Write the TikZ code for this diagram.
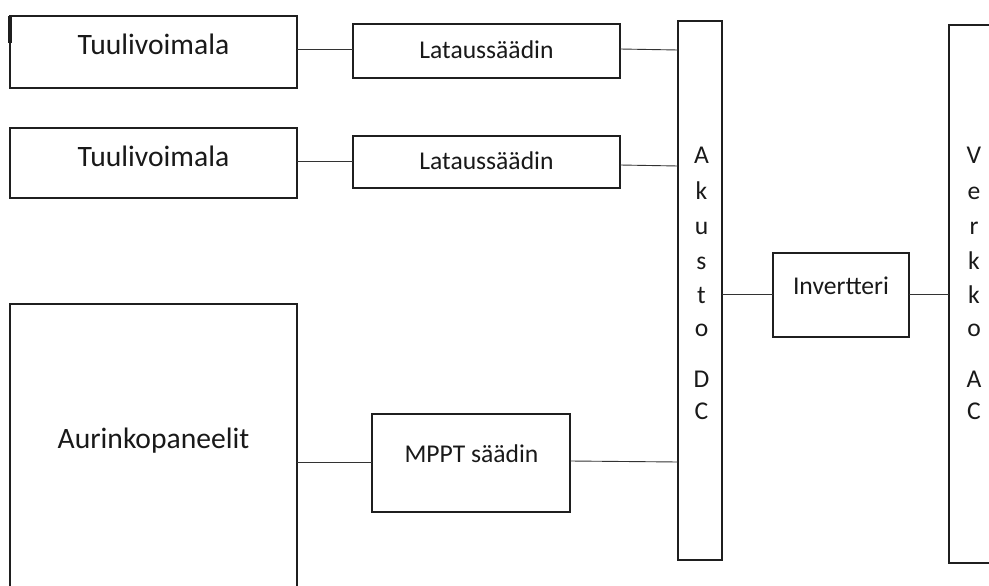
\documentclass[tikz,border=0pt]{standalone}
\usepackage{fontspec}
\setmainfont{Carlito}
\begin{document}
\begin{tikzpicture}[x=1pt,y=-1pt,
  box/.style={draw=black!88, line width=1.6pt, inner sep=0pt, outer sep=0pt, rectangle},
  wire/.style={draw=black!80, line width=0.9pt},
  big/.style={font=\fontsize{29.6}{34}\selectfont, text=black!90, anchor=base, inner sep=0pt},
  small/.style={font=\fontsize{25.6}{31}\selectfont, text=black!90, anchor=base, inner sep=0pt}]
\useasboundingbox (0,0) rectangle (989,586);
% boxes
\node[box, minimum width=287pt, minimum height=72pt] (t1) at (153.5,52) {};
\node[box, minimum width=287pt, minimum height=70pt] (t2) at (153.5,163) {};
\node[box, minimum width=287pt, minimum height=296pt] (aur) at (153.5,452) {};
\node[box, minimum width=267pt, minimum height=54pt] (l1) at (486.5,51) {};
\node[box, minimum width=267pt, minimum height=52pt] (l2) at (486.5,162) {};
\node[box, minimum width=198pt, minimum height=98pt] (mppt) at (471,463) {};
\node[box, minimum width=44pt, minimum height=539pt] (ak) at (700,290.5) {};
\node[box, minimum width=136pt, minimum height=84pt] (inv) at (841,295) {};
\node[box, minimum width=60pt, minimum height=538pt] (vk) at (979,294) {};
\draw[black!88, line width=4pt] ([xshift=0.2pt]t1.north west) -- ++(0,27);
% texts
\node[big] (t1txt) at (153.5,55) {Tuulivoimala};
\node[big] (t2txt) at (153.5,166) {Tuulivoimala};
\node[big] (aurtxt) at (153.5,448) {Aurinkopaneelit};
\node[small] (l1txt) at (486.5,58.5) {Lataussäädin};
\node[small] (l2txt) at (486.5,169.5) {Lataussäädin};
\node[small] (mppttxt) at (471.5,462) {MPPT säädin};
\node[small] (invtxt) at (841,294) {Invertteri};
\foreach \ch/\yy [count=\i] in {A/164,k/199,u/234,s/269,t/303,o/336,D/387,C/419}
  \node[small] (ak\i) at (701.5,\yy) {\ch};
\foreach \ch/\yy [count=\i] in {V/164,e/199,r/234,k/269,k/303,o/336,A/387,C/419}
  \node[small] (vk\i) at (974,\yy) {\ch};
% connectors
\draw[wire] (t1.east |- 0,49) -- (l1.west |- 0,49);
\draw[wire] (l1.east |- 0,49) -- (ak.west |- 0,50);
\draw[wire] (t2.east |- 0,161) -- (l2.west |- 0,161);
\draw[wire] (l2.east |- 0,165) -- (ak.west |- 0,166);
\draw[wire] (aur.east |- 0,462) -- (mppt.west |- 0,462);
\draw[wire] (mppt.east |- 0,461) -- (ak.west |- 0,462);
\draw[wire] (ak.east |- 0,294) -- (inv.west |- 0,294);
\draw[wire] (inv.east |- 0,294) -- (vk.west |- 0,294);
\end{tikzpicture}
\end{document}
